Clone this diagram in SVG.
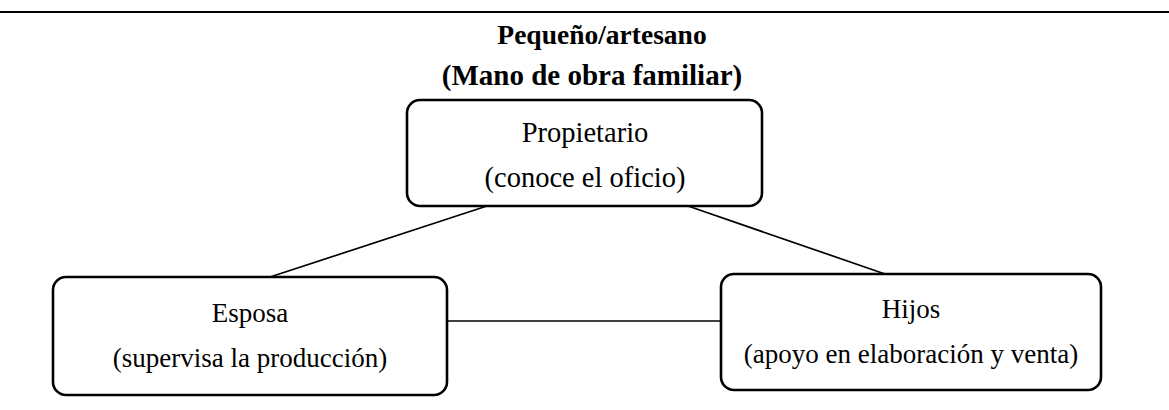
<svg xmlns="http://www.w3.org/2000/svg" width="1169" height="410" viewBox="0 0 1169 410">
<style>
.box{fill:#fff;stroke:#000;stroke-width:2.6}
.con{stroke:#000;stroke-width:1.7;fill:none}
.t{font-family:"Liberation Serif","Times New Roman",serif;font-size:27px;fill:#000;text-anchor:middle}
.tp{font-size:28.5px}
.h{font-family:"Liberation Serif","Times New Roman",serif;font-weight:bold;fill:#000;text-anchor:middle}
.h1{font-size:27.5px}
.h2{font-size:29px}
</style>
<rect width="1169" height="410" fill="#fff"/>
<line x1="0" y1="12" x2="1169" y2="12" stroke="#000" stroke-width="2"/>
<g id="title">
<text class="h h1" x="602" y="44">Pequeño/artesano</text>
<text class="h h2" x="592" y="85">(Mano de obra familiar)</text>
</g>
<g id="connectors">
<line class="con" x1="487" y1="206" x2="270" y2="277"/>
<line class="con" x1="688" y1="206" x2="885" y2="274"/>
<line class="con" x1="447" y1="321" x2="721" y2="321"/>
</g>
<g id="propietario">
<rect class="box" x="407" y="100" width="355" height="106" rx="13"/>
<text class="t tp" x="585" y="142">Propietario</text>
<text class="t tp" x="585" y="187">(conoce el oficio)</text>
</g>
<g id="esposa">
<rect class="box" x="53" y="277" width="394" height="118" rx="13"/>
<text class="t" x="250" y="322">Esposa</text>
<text class="t" x="250" y="367">(supervisa la producción)</text>
</g>
<g id="hijos">
<rect class="box" x="721" y="274" width="380" height="116" rx="13"/>
<text class="t" x="911" y="318">Hijos</text>
<text class="t" x="911" y="363">(apoyo en elaboración y venta)</text>
</g>
</svg>
